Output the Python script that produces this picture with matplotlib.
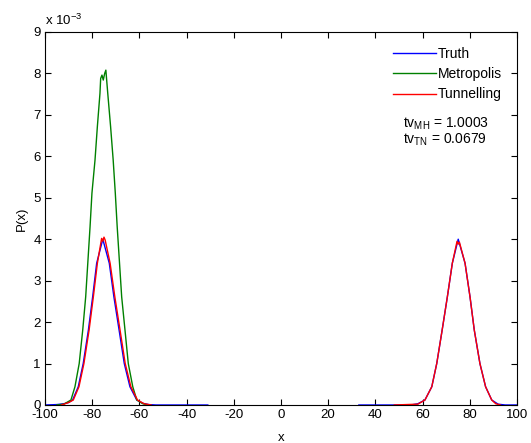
import numpy as np
from matplotlib import pyplot as plt

plt.rcParams['font.family'] = ['Liberation Sans', 'DejaVu Sans']
plt.rcParams['mathtext.fontset'] = 'custom'
plt.rcParams['mathtext.rm'] = 'Liberation Sans'
plt.rcParams['mathtext.it'] = 'Liberation Sans'
plt.rcParams['axes.unicode_minus'] = False

# values in units of 1e-3
truth_left_x = [-100, -95, -92, -90, -88.3, -85.9, -83.8, -81.6, -79.8, -78.1, -75.5,
                -72.75, -70.8, -68.6, -66.4, -64.0, -61.1, -58.5, -56, -53, -31]
truth_left_y = [0, 0.01, 0.03, 0.06, 0.12, 0.44, 1.0, 1.81, 2.61, 3.42, 4.0,
                3.42, 2.61, 1.81, 1.0, 0.44, 0.12, 0.04, 0.01, 0, 0]
truth_right_x = [33, 55, 58, 61, 63.9, 66.0, 68.3, 70.5, 72.6, 75.1, 78.0,
                 80.1, 81.9, 84.3, 86.7, 89.3, 92, 95, 100]
truth_right_y = [0, 0, 0.03, 0.12, 0.44, 1.0, 1.81, 2.61, 3.42, 4.0, 3.42,
                 2.61, 1.81, 1.0, 0.44, 0.12, 0.02, 0, 0]

metro_x = [-95, -92, -89, -87.3, -85.5, -84, -82.75, -80.9, -80.1, -78.8, -77.8,
           -76.7, -76.4, -75.85, -75.3, -74.7, -74.2, -73.4, -72.2, -71.1, -70.2,
           -69.4, -67.5, -66.1, -64.7, -62.8, -61.1, -58.5, -56.5]
metro_y = [0, 0.02, 0.12, 0.44, 1.0, 1.81, 2.61, 4.3, 5.11, 5.91, 6.72,
           7.52, 7.88, 7.96, 7.84, 8.0, 8.08, 7.52, 6.72, 5.91, 5.11,
           4.3, 2.61, 1.81, 1.0, 0.44, 0.12, 0.03, 0]

tunnel_left_x = [-93, -90, -88, -85.6, -83.5, -81.3, -79.5, -77.8, -76, -75.5, -75,
                 -74.5, -72.4, -70.4, -68.2, -66, -63.6, -60.8, -58, -55]
tunnel_left_y = [0, 0.06, 0.12, 0.44, 1.0, 1.81, 2.61, 3.42, 4.02, 3.95, 4.05,
                 3.98, 3.42, 2.61, 1.81, 1.0, 0.44, 0.12, 0.03, 0]
tunnel_right_x = [48, 58, 61, 63.9, 66.0, 68.3, 70.5, 72.6, 74.6, 75.1, 75.6,
                  78.0, 80.1, 81.9, 84.3, 86.7, 89.3, 91, 93]
tunnel_right_y = [0, 0.02, 0.12, 0.44, 1.0, 1.81, 2.61, 3.42, 3.95, 3.88, 3.93,
                  3.42, 2.61, 1.81, 1.0, 0.44, 0.12, 0.03, 0]

fig = plt.figure(figsize=(5.31, 4.43), dpi=100)
ax = fig.add_axes([0.0847, 0.0858, 0.8889, 0.842])

ax.plot(truth_left_x, truth_left_y, color='#0000ff', lw=1.0, label='Truth')
ax.plot(truth_right_x, truth_right_y, color='#0000ff', lw=1.0)
ax.plot(metro_x, metro_y, color='#008000', lw=1.0, label='Metropolis')
ax.plot(tunnel_left_x, tunnel_left_y, color='#ff0000', lw=1.0, label='Tunnelling')
ax.plot(tunnel_right_x, tunnel_right_y, color='#ff0000', lw=1.0)

ax.set_xlim(-100, 100)
ax.set_ylim(0, 9)
ax.set_xticks(np.arange(-100, 101, 20))
ax.set_yticks(np.arange(0, 10, 1))
ax.tick_params(direction='in', top=True, right=True, labelsize=9.5, length=4, pad=3)
ax.set_xlabel('x', fontsize=9.5, labelpad=8)
ax.set_ylabel('P(x)', fontsize=9.5)
ax.text(0, 1.019, r'x 10$^{-3}$', transform=ax.transAxes, fontsize=9.5)

ax.legend(loc='upper left', bbox_to_anchor=(0.737, 0.96), frameon=False,
          fontsize=10, handlelength=3.1, handletextpad=0.15, labelspacing=0.45,
          borderpad=0, borderaxespad=0)
ax.text(0.758, 0.743, r'tv$_{\mathrm{MH}}$ = 1.0003', transform=ax.transAxes, fontsize=10)
ax.text(0.758, 0.701, r'tv$_{\mathrm{TN}}$ = 0.0679', transform=ax.transAxes, fontsize=10)

fig.savefig('out.png', dpi=100)
